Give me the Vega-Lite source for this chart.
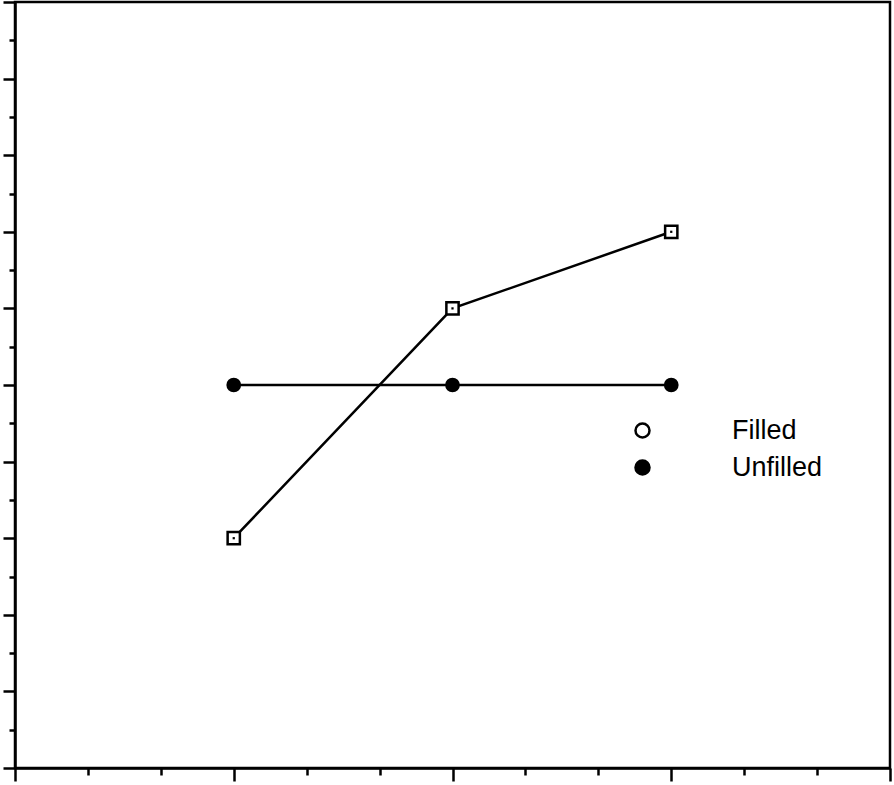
{
  "$schema": "https://vega.github.io/schema/vega-lite/v6.json",
  "autosize": {"type": "none"},
  "padding": {"left": 15, "top": 2, "right": 4, "bottom": 17},
  "width": 875,
  "height": 766,
  "background": "white",
  "config": {
    "view": {"stroke": "black", "strokeWidth": 2.5},
    "axis": {"domainColor": "black", "domainWidth": 2.5, "tickColor": "black", "grid": false, "labels": false, "title": null},
    "legend": {"padding": 0, "labelFont": "Liberation Sans", "labelFontSize": 27, "labelColor": "black", "symbolSize": 196, "symbolStrokeWidth": 2.5, "labelOffset": 76, "rowPadding": 9}
  },
  "data": {
    "values": [
      {"dose": 1, "value": 3, "series": "Filled"},
      {"dose": 2, "value": 6, "series": "Filled"},
      {"dose": 3, "value": 7, "series": "Filled"},
      {"dose": 1, "value": 5, "series": "Unfilled"},
      {"dose": 2, "value": 5, "series": "Unfilled"},
      {"dose": 3, "value": 5, "series": "Unfilled"}
    ]
  },
  "layer": [
    {
      "mark": {"type": "line", "color": "black", "strokeWidth": 2.5},
      "encoding": {
        "x": {"field": "dose", "type": "quantitative", "scale": {"domain": [0, 4], "nice": false},
              "axis": {"orient": "bottom", "values": [0, 1, 2, 3, 4], "tickSize": 13, "tickWidth": 2.5}},
        "y": {"field": "value", "type": "quantitative", "scale": {"domain": [0, 10], "nice": false},
              "axis": {"orient": "left", "values": [0, 1, 2, 3, 4, 5, 6, 7, 8, 9, 10], "tickSize": 12, "tickWidth": 2.5}},
        "detail": {"field": "series"}
      }
    },
    {
      "mark": {"type": "point", "opacity": 1, "strokeWidth": 2.5, "stroke": "black", "size": 150},
      "encoding": {
        "x": {"field": "dose", "type": "quantitative",
              "axis": {"orient": "bottom", "values": [0.3333, 0.6667, 1.3333, 1.6667, 2.3333, 2.6667, 3.3333, 3.6667], "tickSize": 7, "tickWidth": 2.5, "domain": false}},
        "y": {"field": "value", "type": "quantitative",
              "axis": {"orient": "left", "values": [0.5, 1.5, 2.5, 3.5, 4.5, 5.5, 6.5, 7.5, 8.5, 9.5], "tickSize": 6, "tickWidth": 2.5, "domain": false}},
        "shape": {"field": "series", "type": "nominal",
                  "scale": {"domain": ["Unfilled", "Filled"], "range": ["circle", "square"]},
                  "legend": null},
        "fill": {"field": "series", "type": "nominal",
                 "scale": {"domain": ["Filled", "Unfilled"], "range": ["white", "black"]},
                 "legend": {
                    "orient": "none", "legendX": 614, "legendY": 415, "title": null,
                    "encode": {"symbols": {
                      "shape": {"value": {"expr": "datum.value === 'Filled' ? 'M-8.5,0H-0.9M0.9,0H7.5M-0.9,-0.9H0.9V0.9H-0.9ZM-0.06,-0.06H0.06V0.06H-0.06Z' : 'M-8.5,0H-0.85M0.85,0H7.5M-0.85,0A0.85,0.85 0 1,0 0.85,0A0.85,0.85 0 1,0 -0.85,0Z'"}},
                      "stroke": {"value": "black"},
                      "strokeWidth": {"value": 2.5},
                      "opacity": {"value": 1}
                    }}
                  }}
      }
    },
    {
      "transform": [{"filter": "datum.series === 'Filled'"}],
      "mark": {"type": "point", "filled": true, "color": "black", "size": 5, "opacity": 1, "shape": "square"},
      "encoding": {
        "x": {"field": "dose", "type": "quantitative", "axis": null},
        "y": {"field": "value", "type": "quantitative", "axis": null}
      }
    }
  ],
  "resolve": {"axis": {"x": "independent", "y": "independent"}}
}
